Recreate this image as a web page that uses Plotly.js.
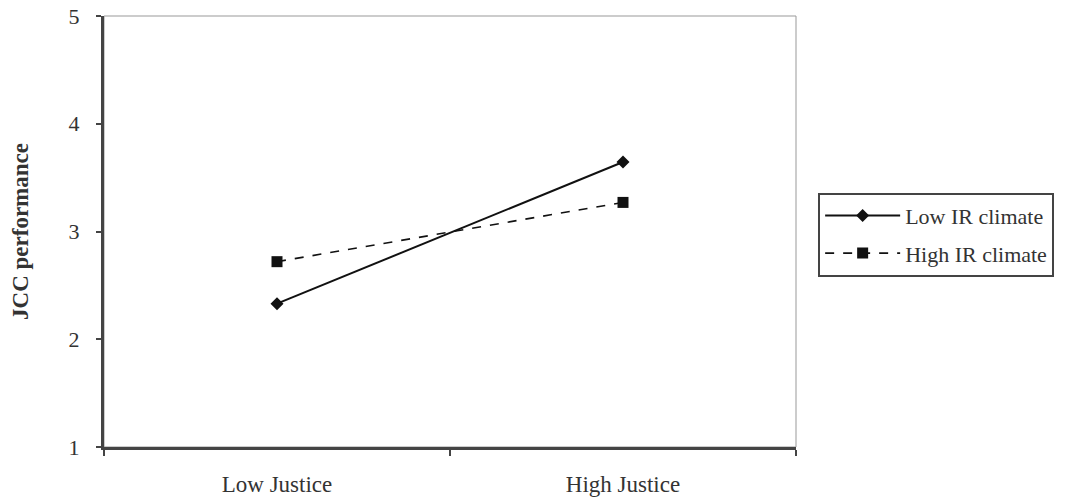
<!DOCTYPE html>
<html><head><meta charset="utf-8">
<script src="https://cdn.plot.ly/plotly-3.0.1.min.js"></script>
<style>html,body{margin:0;padding:0;background:#fff}#chart{width:1082px;height:497px}</style>
</head><body><div id="chart"></div>
<script>
const categories = ["Low Justice", "High Justice"];
const lowIR = [2.33, 3.645];
const highIR = [2.72, 3.27];
const seriesNames = ["Low IR climate", "High IR climate"];
const yTicks = [1, 2, 3, 4, 5];

const data = [
  {x: categories, y: lowIR, name: seriesNames[0], legendgroup: "a", type: "scatter", mode: "lines+markers",
   line: {color: "#111", width: 2, dash: "solid"},
   marker: {symbol: "diamond", size: 10, color: "#111"}},
  {x: categories, y: highIR, name: seriesNames[1], legendgroup: "b", type: "scatter", mode: "lines+markers",
   line: {color: "#111", width: 1.6, dash: "dash"},
   marker: {symbol: "square", size: 11, color: "#111"}}
];
const layout = {
  width: 1082, height: 497,
  margin: {l: 104, r: 286, t: 16, b: 50},
  paper_bgcolor: "#fff", plot_bgcolor: "#fff",
  font: {family: "Liberation Serif, Times New Roman, serif", color: "#333"},
  showlegend: true,
  legend: {x: 1.032, y: 0.59, xanchor: "left", yanchor: "top",
    bordercolor: "#444", borderwidth: 2, bgcolor: "#fff",
    font: {size: 22, color: "#333", family: "Liberation Serif, serif"},
    itemwidth: 75, traceorder: "grouped", tracegroupgap: 6},
  xaxis: {type: "category", range: [-0.5, 1.5], tickson: "boundaries",
    ticks: "outside", ticklen: 6, tickcolor: "#444", tickwidth: 2,
    showline: true, linecolor: "#444", linewidth: 3, showgrid: false, zeroline: false,
    ticklabelstandoff: 14,
    tickfont: {size: 23, color: "#333"}, fixedrange: true},
  yaxis: {range: [1, 5], tickvals: yTicks, ticks: "outside", ticklen: 5,
    tickcolor: "#444", tickwidth: 2,
    showline: true, linecolor: "#444", linewidth: 3, showgrid: false, zeroline: false,
    ticklabelstandoff: 12,
    tickfont: {size: 22, color: "#333"},
    title: {text: "<b>JCC performance</b>", font: {size: 23, color: "#333"}, standoff: 34}},
  shapes: [{type: "rect", xref: "paper", yref: "paper", x0: 0, x1: 1, y0: 0, y1: 1,
    line: {color: "#999", width: 1}, layer: "below"}]
};
Plotly.newPlot("chart", data, layout, {displayModeBar: false, staticPlot: true});
</script></body></html>
